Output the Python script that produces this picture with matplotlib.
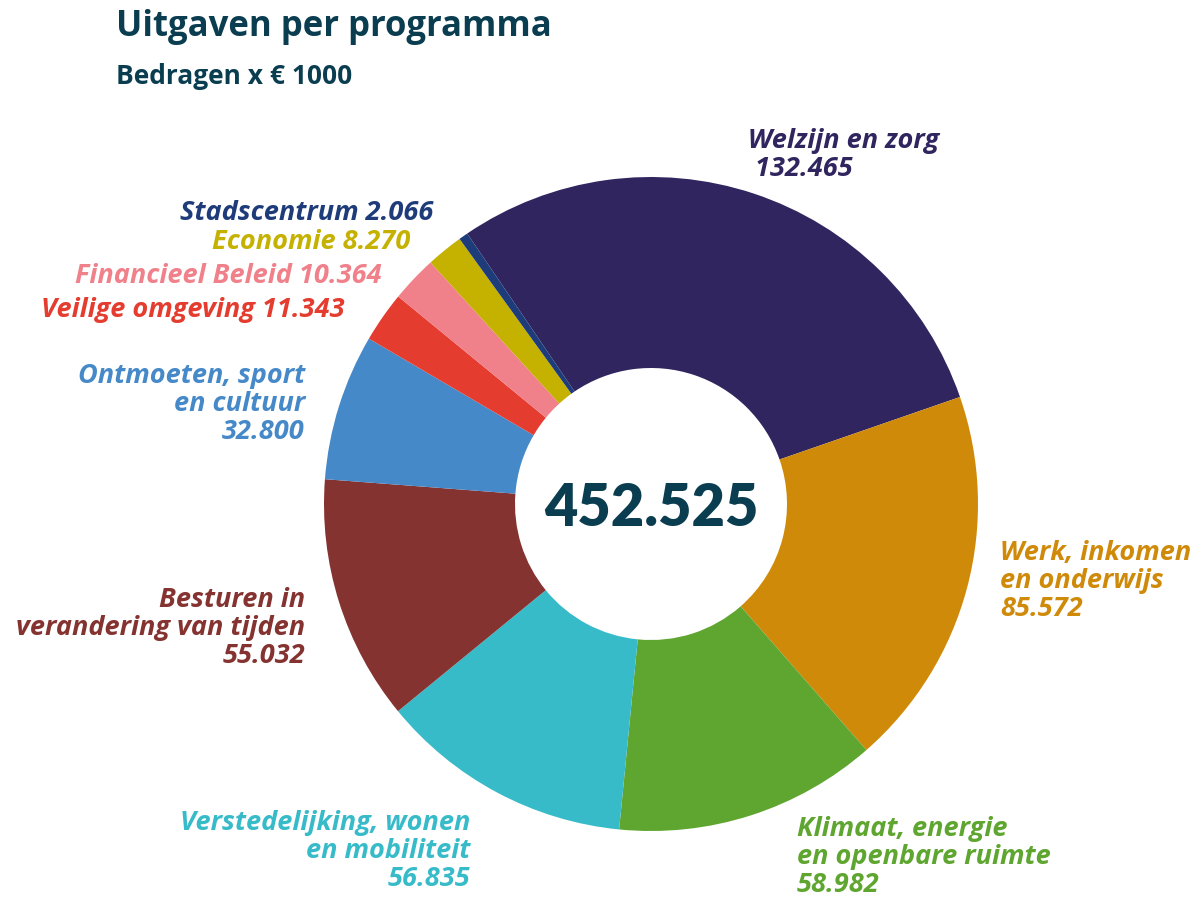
import matplotlib
matplotlib.use("Agg")
import matplotlib.pyplot as plt

# Data
programmas = ["Welzijn en zorg", "Werk, inkomen en onderwijs", "Klimaat, energie en openbare ruimte",
              "Verstedelijking, wonen en mobiliteit", "Besturen in verandering van tijden",
              "Ontmoeten, sport en cultuur", "Veilige omgeving", "Financieel Beleid",
              "Economie", "Stadscentrum"]
bedragen = [132.465, 85.572, 58.982, 56.835, 55.032, 32.800, 11.343, 10.364, 8.270, 2.066]
bedrag_labels = ["132.465", "85.572", "58.982", "56.835", "55.032", "32.800", "11.343", "10.364", "8.270", "2.066"]
label_text = ["Welzijn en zorg\n 132.465", "Werk, inkomen\nen onderwijs\n85.572",
              "Klimaat, energie\nen openbare ruimte\n58.982", "Verstedelijking, wonen\nen mobiliteit\n56.835",
              "Besturen in\nverandering van tijden\n55.032", "Ontmoeten, sport\nen cultuur\n32.800",
              "Veilige omgeving 11.343", "Financieel Beleid 10.364", "Economie 8.270", "Stadscentrum 2.066"]
kleuren = ["#30255F", "#D08A0A", "#5FA630", "#38BBC9", "#843330",
           "#4689C8", "#E43D30", "#F0808A", "#C4B100", "#1F3C7A"]
totaal = "452.525"
titel = "Uitgaven per programma"
subtitel = "Bedragen x € 1000"

W, H = 1204, 901
fig = plt.figure(figsize=(W / 100, H / 100), dpi=100)
ax = fig.add_axes([0, 0, 1, 1])

cx, cy, r = 651, H - 504, 327
ax.pie(bedragen, colors=kleuren, startangle=124.2, counterclock=False,
       center=(cx, cy), radius=r, wedgeprops=dict(width=r - 136, linewidth=0),
       frame=True)
ax.set_xlim(0, W)
ax.set_ylim(0, H)
ax.set_aspect("equal")
ax.axis("off")

fam = ["Open Sans", "DejaVu Sans"]
fs = 19.5
ls = 1.08
# label positions: (x, y_center_of_block, ha)
pos = [
    (748, 155, "left"),
    (1000, 581, "left"),
    (797, 857, "left"),
    (470, 851, "right"),
    (305, 628, "right"),
    (305, 404, "right"),
    (345, 310, "right"),
    (382, 276, "right"),
    (410, 242, "right"),
    (433, 213, "right"),
]
for txt, (x, y, ha), c in zip(label_text, pos, kleuren):
    ax.text(x, H - y, txt, ha=ha, va="center", color=c, fontsize=fs,
            fontweight="bold", fontstyle="italic", family=fam,
            multialignment=ha, linespacing=ls)

ax.text(cx, cy - 4, totaal, ha="center", va="center", color="#0A3D50",
        fontsize=41.5, fontweight="heavy", family=["Lato", "DejaVu Sans"])
ax.text(116, H - 27, titel, ha="left", va="center", color="#0A3D50",
        fontsize=25, fontweight="bold", family=fam)
ax.text(116, H - 76, subtitel, ha="left", va="center", color="#0A3D50",
        fontsize=19, fontweight="bold", family=fam)

fig.savefig("out.png", dpi=100)
